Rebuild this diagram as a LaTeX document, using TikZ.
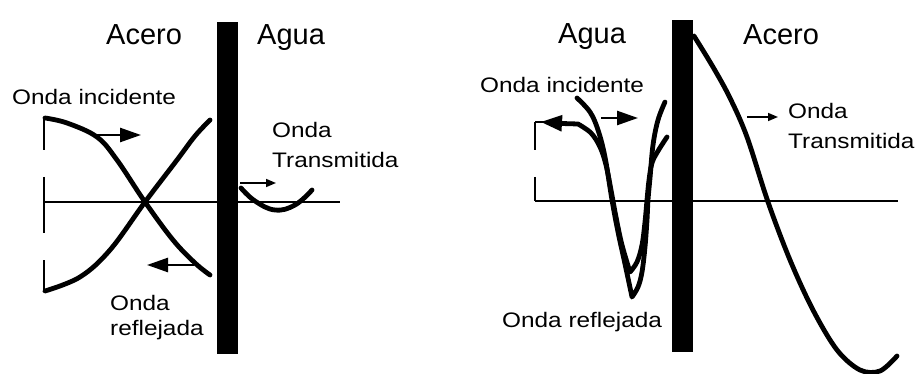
\documentclass[tikz,border=0pt]{standalone}
\usepackage{fontspec}
\setmainfont{Liberation Sans}
\usetikzlibrary{arrows.meta}
\tikzset{
  big/.style={font=\fontsize{29}{33}\selectfont, inner sep=0pt, anchor=base west},
  small/.style={font=\fontsize{21}{25}\selectfont, inner sep=0pt, anchor=base west},
  wave/.style={line width=4.8pt, line cap=round, line join=round},
  axis/.style={line width=1.5pt},
  wall/.style={fill=black, draw=none},
  bigarrow/.style={line width=2.6pt, -{Triangle[length=21pt,width=14pt]}},
  thinarrow/.style={line width=1.5pt, -{Triangle[length=10pt,width=8pt]}},
}
\newcommand{\wide}[1]{\scalebox{1.16}[1]{#1}}
\begin{document}
\begin{tikzpicture}[x=1pt,y=-1pt]
\useasboundingbox (0,0) rectangle (921,374);
\fill[white] (0,0) rectangle (921,374);

% ---------------- left panel ----------------
\draw[axis] (45,202) -- (340,202);
\draw[axis] (44,118) -- (44,150);
\draw[axis] (44,177) -- (44,233);
\draw[axis] (44,260) -- (44,292);

% incident wave
\draw[wave] plot[smooth, tension=0.6] coordinates {(45,118) (67,123) (97,137) (117,160) (145,202) (173,240) (195,263) (210,275)};
% reflected wave
\draw[wave] plot[smooth, tension=0.6] coordinates {(45,291) (80,277) (110,250) (145,202) (177,160) (195,136) (210,120)};
% transmitted wave
\draw[wave] plot[smooth, tension=0.7] coordinates {(241,188) (255,201) (275,210) (295,205) (312,190)};

\coordinate (liA) at (96,135);
\coordinate (liB) at (141,135);
\draw[bigarrow] (liA) -- (liB);
\coordinate (lrA) at (194,265);
\coordinate (lrB) at (147,265);
\draw[bigarrow] (lrA) -- (lrB);
\coordinate (ltA) at (240,183);
\coordinate (ltB) at (276,183);
\draw[thinarrow] (ltA) -- (ltB);

\fill[wall] (217,22) rectangle (238,354);

\node[big] (lacero) at (106,45) {Acero};
\node[big] (lagua) at (257,45) {Agua};
\node[small] (linc) at (12,105) {\wide{Onda incidente}};
\node[small] (ltr1) at (272,138) {\wide{Onda}};
\node[small] (ltr2) at (272,168) {\wide{Transmitida}};
\node[small] (lre1) at (110,310) {\wide{Onda}};
\node[small] (lre2) at (110,335) {\wide{reflejada}};

% ---------------- right panel ----------------
\draw[axis] (535,201) -- (898,201);
\draw[axis] (535,122) -- (535,150);
\draw[axis] (535,177) -- (535,201);

% incident wave
\draw[wave] plot[smooth, tension=0.6] coordinates {(577,98) (590,112) (598,130) (605,157) (612,200) (618,232) (625,264) (632,297)}
  -- plot[smooth, tension=0.6] coordinates {(632,297) (638,287) (642,272) (645,247) (647,220) (648,200) (650,178) (653,145) (658,120) (665,102)};
% reflected wave
\draw[wave] (562,123.5) -- plot[smooth, tension=0.6] coordinates {(578,124) (591,133) (600,147) (606,165) (611,190) (616,217) (622,245) (630,272)}
  -- plot[smooth, tension=0.6] coordinates {(630,272) (637,262) (642,245) (645,222) (647,200) (649,180) (652,163) (658,151) (667,137)};
\draw[line width=2.2pt] (535,122) -- (545,122);
\coordinate (rrA) at (566,123.5);
\coordinate (rrB) at (541,122);
\draw[line width=2.6pt, -{Triangle[length=21pt,width=16pt]}] (rrA) -- (rrB);

% transmitted wave
\draw[wave] plot[smooth, tension=0.55] coordinates {(694,36) (713,67) (730,98) (747,137) (768,202) (790,260) (813,310) (837,350) (860,370) (880,371) (897,356)};

\coordinate (riA) at (601,118);
\coordinate (riB) at (638,118);
\draw[bigarrow] (riA) -- (riB);
\coordinate (rtA) at (747,117);
\coordinate (rtB) at (778,117);
\draw[thinarrow] (rtA) -- (rtB);

\fill[wall] (672,20) rectangle (693,352);

\node[big] (ragua) at (558,44) {Agua};
\node[big] (racero) at (743,45) {Acero};
\node[small] (rinc) at (480,93) {\wide{Onda incidente}};
\node[small] (rtr1) at (788,119) {\wide{Onda}};
\node[small] (rtr2) at (788,149) {\wide{Transmitida}};
\node[small] (rre) at (502,327) {\wide{Onda reflejada}};
\end{tikzpicture}
\end{document}
